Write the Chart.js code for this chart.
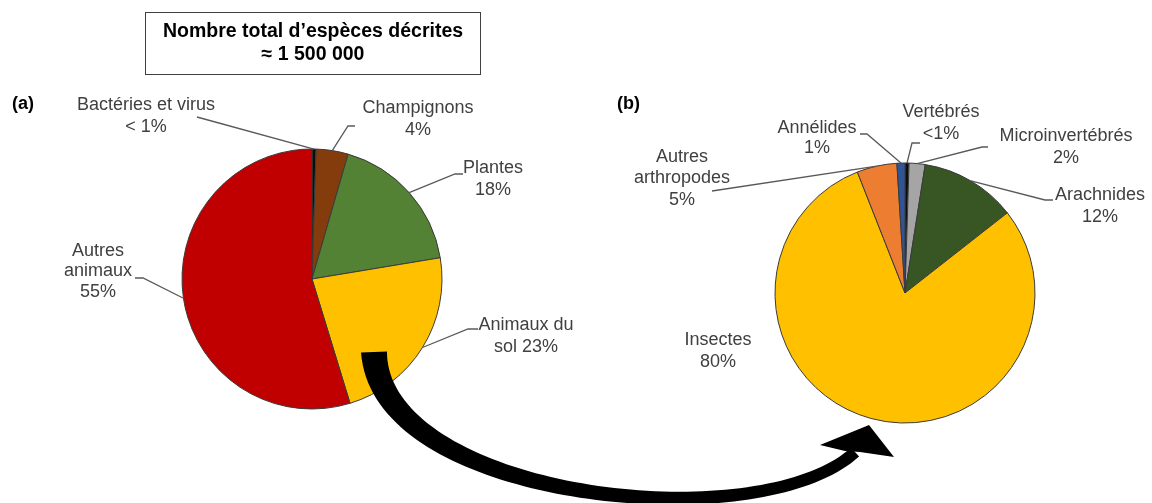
<!DOCTYPE html>
<html><head><meta charset="utf-8">
<script src="https://cdn.jsdelivr.net/npm/chart.js@4/dist/chart.umd.min.js"></script>
<style>
html,body{margin:0;padding:0;background:#fff;}
#wrap{position:relative;width:1152px;height:503px;overflow:hidden;font-family:"Liberation Sans",Arial,sans-serif;}
#ca{position:absolute;left:0;top:0;}
#cb{position:absolute;left:600px;top:0;}
#arrow{position:absolute;left:0;top:0;pointer-events:none;}
#titlebox{position:absolute;left:145px;top:12px;width:334px;height:61px;border:1.5px solid #404040;box-sizing:content-box;}
.tl{position:absolute;left:0;width:100%;text-align:center;font-weight:bold;font-size:19.5px;line-height:23px;color:#000;white-space:nowrap;}
.pl{position:absolute;font-weight:bold;font-size:18px;line-height:22px;color:#000;}
</style></head>
<body>
<div id="wrap">
  <canvas id="ca" width="600" height="503"></canvas>
  <canvas id="cb" width="552" height="503"></canvas>
  <canvas id="arrow" width="1152" height="503"></canvas>
  <div id="titlebox">
    <div class="tl" style="top:6px">Nombre total d’espèces décrites</div>
    <div class="tl" style="top:29px">≈ 1 500 000</div>
  </div>
  <div class="pl" style="left:12px;top:92px">(a)</div>
  <div class="pl" style="left:617px;top:92px">(b)</div>
</div>
<script>
// ---------- DATA ----------
const categoriesA = ["Bactéries et virus", "Champignons", "Plantes", "Animaux du sol", "Autres animaux"];
const valuesA = [0.5, 4, 18, 23, 55];
const percentLabelsA = ["< 1%", "4%", "18%", "23%", "55%"];

const categoriesB = ["Vertébrés", "Microinvertébrés", "Arachnides", "Insectes", "Autres arthropodes", "Annélides"];
const valuesB = [0.5, 2, 12, 80, 5, 1];
const percentLabelsB = ["<1%", "2%", "12%", "80%", "5%", "1%"];

// ---------- STYLE / LAYOUT ----------
const colorsA = ["#0d0d0d", "#843C0C", "#548235", "#FFC000", "#C00000"];
const colorsB = ["#0d0d0d", "#A5A5A5", "#375623", "#FFC000", "#ED7D31", "#2F5597"];
const FONT = '"Liberation Sans", Arial, sans-serif';
const TEXT_COLOR = "#404040";
const LEADER_COLOR = "#595959";

// label layout (page coordinates): cx, first-line y, words per line, leader elbow points
const layoutA = [
  {cx:146, y:105, lines:[3,1], leader:[[197,117]]},
  {cx:418, y:108, lines:[1,1], leader:[[355,126],[348,126]]},
  {cx:493, y:168, lines:[1,1], leader:[[463,174],[455,174]]},
  {cx:526, y:325, lines:[2,2], leader:[[478,329],[468,329]]},
  {cx:98,  y:251, lines:[1,1,1], lh:20.5, leader:[[135,278],[143,278]]}
];
const layoutB = [
  {cx:941,  y:112, lines:[1,1], leader:[[920,143],[912,143]]},
  {cx:1066, y:136, lines:[1,1], leader:[[988,147],[982,147]]},
  {cx:1100, y:195, lines:[1,1], leader:[[1053,200],[1045,200]]},
  {cx:718,  y:340, lines:[1,1], leader:null},
  {cx:682,  y:157, lines:[1,1,1], lh:21.5, leader:[[712,191]]},
  {cx:817,  y:128, lines:[1,1], lh:20.5, leader:[[860,134],[867,134]]}
];

function buildLines(label, pct, counts){
  const tokens = label.split(" ").concat([pct]);
  const out = []; let k = 0;
  counts.forEach(c => { out.push(tokens.slice(k, k+c).join(" ")); k += c; });
  if (k < tokens.length) out[out.length-1] += " " + tokens.slice(k).join(" ");
  return out;
}

const pieLabels = {
  id: 'pieLabels',
  afterDatasetsDraw(chart, args, opts){
    const ctx = chart.ctx;
    const meta = chart.getDatasetMeta(0);
    const ox = opts.offsetX;
    ctx.save();
    meta.data.forEach((arc, i) => {
      const spec = opts.layout[i];
      const p = arc.getProps(['x','y','startAngle','endAngle','outerRadius'], true);
      const mid = (p.startAngle + p.endAngle) / 2;
      const ax = p.x + Math.cos(mid) * p.outerRadius;
      const ay = p.y + Math.sin(mid) * p.outerRadius;
      if (spec.leader){
        ctx.beginPath();
        ctx.strokeStyle = LEADER_COLOR;
        ctx.lineWidth = 1.3;
        spec.leader.forEach((pt, j) => { if (j===0) ctx.moveTo(pt[0]-ox, pt[1]); else ctx.lineTo(pt[0]-ox, pt[1]); });
        ctx.lineTo(ax, ay);
        ctx.stroke();
      }
      const lines = buildLines(opts.categories[i], opts.pcts[i], spec.lines);
      const lh = spec.lh || 22;
      ctx.fillStyle = TEXT_COLOR;
      ctx.font = '18px ' + FONT;
      ctx.textAlign = 'center';
      ctx.textBaseline = 'middle';
      lines.forEach((t, j) => ctx.fillText(t, spec.cx - ox, spec.y + j*lh));
    });
    ctx.restore();
  }
};

function makePie(id, cats, vals, cols, pcts, layout, offsetX, pad){
  return new Chart(document.getElementById(id), {
    type: 'pie',
    data: { labels: cats, datasets: [{ data: vals, backgroundColor: cols, borderColor: '#3a3a3a', borderWidth: 1, hoverOffset: 0 }] },
    options: {
      responsive: false, animation: false, radius: 130,
      layout: { padding: pad },
      events: [],
      plugins: { legend: {display:false}, tooltip: {enabled:false},
                 pieLabels: { layout: layout, categories: cats, pcts: pcts, offsetX: offsetX } }
    },
    plugins: [pieLabels]
  });
}

// pie (a) centre (312,279); pie (b) centre (905,293), r=130
makePie('ca', categoriesA, valuesA, colorsA, percentLabelsA, layoutA, 0,
        {left:182, right:600-442, top:149, bottom:503-409});
makePie('cb', categoriesB, valuesB, colorsB, percentLabelsB, layoutB, 600,
        {left:175, right:552-435, top:163, bottom:503-423});

// ---------- curved arrow (decoration) ----------
(function(){
  const c = document.getElementById('arrow').getContext('2d');
  const P0=[374,352], P1=[380,500], P2=[760,540], P3=[855,452];
  function bz(t){
    const a=(1-t)**3, b=3*(1-t)**2*t, d=3*(1-t)*t*t, e=t**3;
    return [a*P0[0]+b*P1[0]+d*P2[0]+e*P3[0], a*P0[1]+b*P1[1]+d*P2[1]+e*P3[1]];
  }
  function dz(t){
    const a=-3*(1-t)**2, b=3*(1-t)**2-6*(1-t)*t, d=6*(1-t)*t-3*t*t, e=3*t*t;
    return [a*P0[0]+b*P1[0]+d*P2[0]+e*P3[0], a*P0[1]+b*P1[1]+d*P2[1]+e*P3[1]];
  }
  const N=80, left=[], right=[];
  for (let i=0;i<=N;i++){
    const t=i/N, p=bz(t), d=dz(t), L=Math.hypot(d[0],d[1]);
    const nx=-d[1]/L, ny=d[0]/L;
    const w=(12+14*(1-t)**2.5)/2;
    left.push([p[0]+nx*w, p[1]+ny*w]); right.push([p[0]-nx*w, p[1]-ny*w]);
  }
  c.fillStyle='#000';
  c.beginPath();
  left.forEach((p,i)=> i? c.lineTo(p[0],p[1]) : c.moveTo(p[0],p[1]));
  for (let i=right.length-1;i>=0;i--) c.lineTo(right[i][0], right[i][1]);
  c.closePath(); c.fill();
  c.beginPath();
  c.moveTo(820,445); c.lineTo(869,425); c.lineTo(894,457); c.lineTo(860,452); c.lineTo(845,451); c.closePath();
  c.fill();
})();
</script>
</body></html>
